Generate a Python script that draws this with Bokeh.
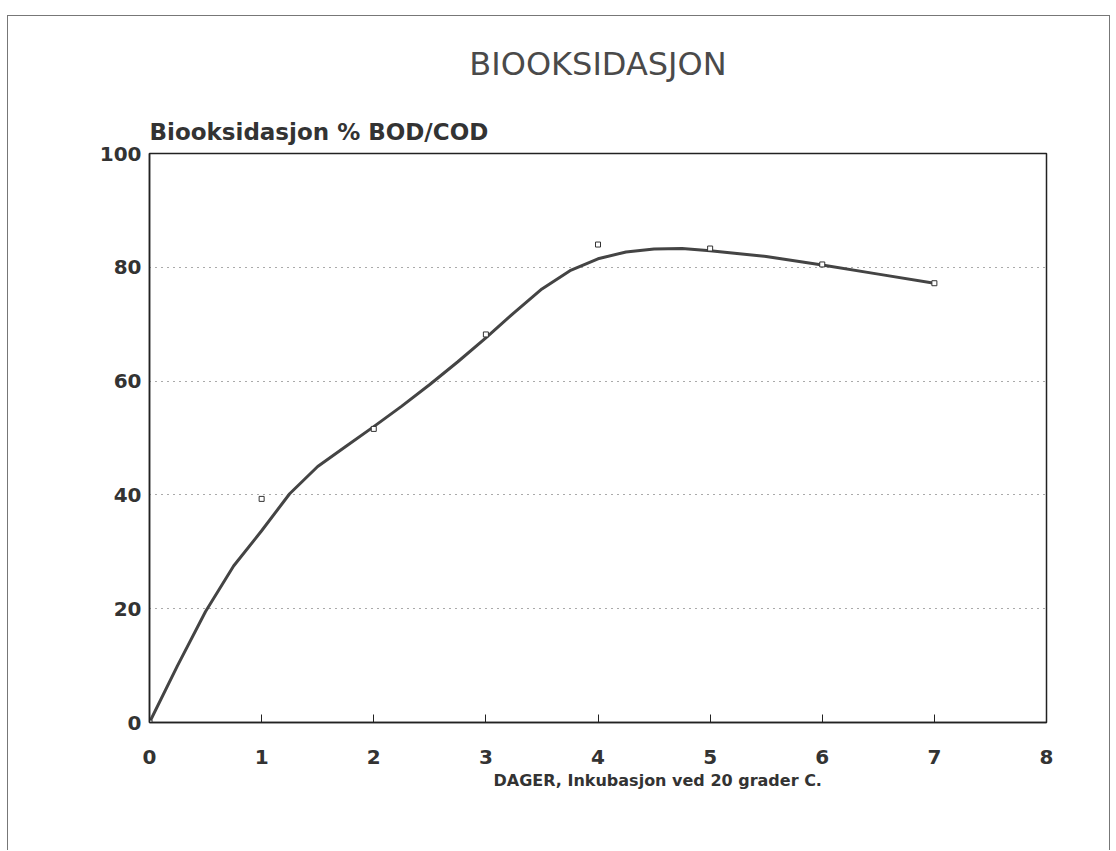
from bokeh.plotting import figure
from bokeh.models import Range1d, FixedTicker, Title
from bokeh.embed import file_html
from bokeh.resources import INLINE

# measured points (days, % BOD/COD)
days = [0, 1, 2, 3, 4, 5, 6, 7]
bod_cod = [0, 39.3, 51.6, 68.2, 84.0, 83.3, 80.5, 77.2]

# fitted smooth curve
curve_days = [0, 0.25, 0.5, 0.75, 1.0, 1.25, 1.5, 1.75, 2.0, 2.25, 2.5, 2.75, 3.0,
              3.25, 3.5, 3.75, 4.0, 4.25, 4.5, 4.75, 5.0, 5.5, 6.0, 6.5, 7.0]
curve_vals = [0, 10.0, 19.5, 27.5, 33.7, 40.2, 45.0, 48.5, 52.0, 55.6, 59.4, 63.4, 67.6,
              72.0, 76.2, 79.4, 81.5, 82.7, 83.2, 83.3, 82.9, 81.9, 80.4, 78.8, 77.2]

x_ticks = [0, 1, 2, 3, 4, 5, 6, 7, 8]
y_ticks = [0, 20, 40, 60, 80, 100]
grid_lines = [20, 40, 60, 80]

title_text = "BIOOKSIDASJON"
y_title = "Biooksidasjon  % BOD/COD"
x_title = "DAGER, Inkubasjon ved 20 grader C."

FONT = "DejaVu Sans"
INK = "#333333"

p = figure(width=1103, height=835, output_backend="svg", toolbar_location=None,
           x_range=Range1d(0, 8), y_range=Range1d(0, 100),
           min_border_left=141, min_border_right=65, min_border_top=137,
           min_border_bottom=129, title=None)
p.styles = {"margin-left": "7px", "margin-top": "15px",
            "border-left": "1px solid #777777", "border-top": "1px solid #777777",
            "border-right": "1px solid #777777"}
p.background_fill_color = "white"
p.border_fill_color = "white"
p.outline_line_color = "#222222"
p.outline_line_width = 1.5

p.xaxis.ticker = FixedTicker(ticks=x_ticks)
p.yaxis.ticker = FixedTicker(ticks=y_ticks)
for ax in (p.xaxis, p.yaxis):
    ax.axis_line_color = "#222222"
    ax.axis_line_width = 1.5
    ax.major_label_text_font = FONT
    ax.major_label_text_font_style = "bold"
    ax.major_label_text_color = INK
    ax.major_label_text_font_size = "20px"
    ax.minor_tick_line_color = None
p.xaxis.major_tick_in = 8
p.xaxis.major_tick_out = 0
p.xaxis.major_tick_line_color = "#222222"
p.xaxis.major_label_standoff = 27
p.yaxis.major_tick_in = 0
p.yaxis.major_tick_out = 0
p.yaxis.major_label_standoff = 8

p.xgrid.grid_line_color = None
p.ygrid.ticker = FixedTicker(ticks=grid_lines)
p.ygrid.grid_line_color = "#555555"
p.ygrid.grid_line_dash = "1 5"
p.ygrid.grid_line_width = 1

p.line(curve_days, curve_vals, line_color="#444444", line_width=3)
p.scatter(days, bod_cod, marker="square", size=5, fill_color="white",
          line_color="#333333", line_width=1)

# titles: first added is closest to the frame
p.add_layout(Title(text=y_title, align="left", text_font=FONT, text_font_size="23px",
                   text_font_style="bold", text_color=INK, standoff=17), "above")
p.add_layout(Title(text=title_text, align="center", text_font=FONT,
                   text_font_size="32px", text_font_style="normal",
                   text_color="#4a4a4a", standoff=51), "above")
p.add_layout(Title(text=x_title, align="left", offset=344, text_font=FONT,
                   text_font_size="16px", text_font_style="bold", text_color=INK,
                   standoff=4), "below")

open("out.html", "w").write(file_html(p, INLINE))
